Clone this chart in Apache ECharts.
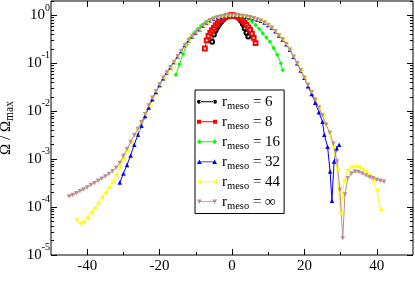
<!DOCTYPE html>
<html><head><meta charset="utf-8">
<script src="https://cdn.jsdelivr.net/npm/echarts@6/dist/echarts.min.js"></script>
<style>html,body{margin:0;padding:0;background:#fff}#c{width:415px;height:282px}</style>
</head><body><div id="c"></div>
<script>
// ---- data ----
const sBlack = [-5.5,-5,-4.5,-4,-3.5,-3,-2.5,-2,-1.5,-1,-0.5,0,0.5,1,1.5,2,2.5,3,3.5,4,4.5];
const vBlack = [0.282,0.398,0.490,0.575,0.661,0.741,0.813,0.891,0.933,0.977,1.0,1.0,1.0,0.977,0.933,0.871,0.776,0.661,0.537,0.437,0.363];

const sRed = [-7.5,-7,-6.5,-6,-5.5,-5,-4.5,-4,-3.5,-3,-2.5,-2,-1.5,-1,-0.5,0,0.5,1,1.5,2,2.5,3,3.5,4,4.5,5,5.5,6,6.5];
const vRed = [0.204,0.302,0.372,0.437,0.490,0.550,0.617,0.692,0.759,0.813,0.871,0.912,0.955,0.977,1.0,1.0,1.0,0.977,0.955,0.912,0.851,0.776,0.708,0.631,0.562,0.501,0.417,0.339,0.263];

const sGreen = [-15.5,-14.5,-13.5,-12.5,-11.5,-10.5,-9.5,-8.5,-7.5,-6.5,-5.5,-4.5,-3.5,-2.5,-1.5,-0.5,0.5,1.5,2.5,3.5,4.5,5.5,6.5,7.5,8.5,9.5,10.5,11.5,12.5,13.5,14];
const vGreen = [0.0575,0.0955,0.158,0.245,0.339,0.427,0.513,0.603,0.692,0.776,0.851,0.902,0.944,0.977,0.993,1.0,1.0,0.989,0.966,0.923,0.851,0.741,0.631,0.525,0.427,0.347,0.282,0.209,0.151,0.100,0.0724];

const sBlue = [-31,-30,-29,-28,-27,-26,-25,-24,-23,-22,-21,-20,-19,-18,-17,-16,-15,-14,-13,-12,-11,-10,-9,-8,-7,-6,-5,-4,-3,-2,-1,0,1,2,3,4,5,6,7,8,9,10,11,12,13,14,15,16,17,18,19,20,21,22,23,24,25,25.5,26.4,27.1,27.6,28.2,28.9,29.6];
const vBlue = [3.24e-4,5.01e-4,7.59e-4,1.20e-3,2.00e-3,3.24e-3,5.01e-3,7.94e-3,1.20e-2,1.78e-2,2.51e-2,3.55e-2,4.90e-2,6.46e-2,8.32e-2,0.107,0.141,0.182,0.240,0.302,0.363,0.437,0.513,0.617,0.708,0.794,0.851,0.912,0.955,0.977,1.0,1.0,1.0,0.989,0.977,0.944,0.912,0.871,0.822,0.776,0.708,0.631,0.550,0.468,0.380,0.316,0.251,0.191,0.138,0.100,0.0708,0.0501,3.31e-2,2.29e-2,1.51e-2,9.55e-3,6.03e-3,3.24e-3,1.82e-3,5.50e-4,1.35e-4,8.91e-4,1.70e-3,2.00e-3];

const sYellow = [-43,-42,-41,-40,-39,-38,-37,-36,-35,-34,-33,-32,-31,-30,-29,-28,-27,-26,-25,-24,-23,-22,-21,-20,-19,-18,-17,-16,-15,-14,-13,-12,-11,-10,-9,-8,-7,-6,-5,-4,-3,-2,-1,0,1,2,3,4,5,6,7,8,9,10,11,12,13,14,15,16,17,18,19,20,21,22,23,24,25,26,27,28,29,30,31,32,33,34,35,36,37,38,39,40,41];
const vYellow = [5.50e-5,4.57e-5,5.01e-5,6.03e-5,7.59e-5,9.55e-5,1.20e-4,1.58e-4,2.00e-4,2.57e-4,3.39e-4,4.68e-4,6.76e-4,1.00e-3,1.51e-3,2.24e-3,3.16e-3,4.27e-3,5.89e-3,8.71e-3,1.32e-2,1.91e-2,2.63e-2,3.63e-2,5.01e-2,6.46e-2,8.32e-2,0.107,0.141,0.182,0.240,0.302,0.363,0.437,0.513,0.617,0.708,0.794,0.851,0.912,0.955,0.977,1.0,1.0,1.0,0.989,0.977,0.944,0.912,0.871,0.822,0.776,0.708,0.631,0.550,0.468,0.380,0.316,0.251,0.191,0.138,0.100,0.0708,0.0501,0.0355,0.0251,0.0174,0.0120,0.00813,0.00525,3.39e-3,1.78e-3,6.31e-4,7.41e-5,3.55e-4,6.03e-4,6.92e-4,7.24e-4,6.92e-4,6.31e-4,5.50e-4,4.68e-4,3.72e-4,2.24e-4,8.71e-5];

const sBrown = [-45,-44,-43,-42,-41,-40,-39,-38,-37,-36,-35,-34,-33,-32,-31,-30,-29,-28,-27,-26,-25,-24,-23,-22,-21,-20,-19,-18,-17,-16,-15,-14,-13,-12,-11,-10,-9,-8,-7,-6,-5,-4,-3,-2,-1,0,1,2,3,4,5,6,7,8,9,10,11,12,13,14,15,16,17,18,19,20,21,22,23,24,25,26,27,28,29,29.8,30.6,31.2,32,33,34,35,36,37,38,39,40,41,42];
const vBrown = [1.66e-4,1.78e-4,1.95e-4,2.14e-4,2.34e-4,2.57e-4,2.88e-4,3.16e-4,3.55e-4,3.89e-4,4.37e-4,4.90e-4,5.62e-4,6.61e-4,8.32e-4,1.17e-3,1.62e-3,2.29e-3,3.16e-3,4.27e-3,5.89e-3,8.71e-3,1.32e-2,1.91e-2,2.63e-2,3.63e-2,5.01e-2,6.46e-2,8.32e-2,0.107,0.141,0.182,0.240,0.302,0.363,0.437,0.513,0.617,0.708,0.794,0.851,0.912,0.955,0.977,1.0,1.0,1.0,0.989,0.977,0.944,0.912,0.871,0.822,0.776,0.708,0.631,0.550,0.468,0.380,0.316,0.251,0.191,0.138,0.100,0.0708,0.0501,0.0355,0.0251,0.0174,0.0120,0.00813,0.00525,0.00355,0.00209,0.000891,0.000229,0.0000224,0.000182,0.000398,0.000501,0.000550,0.000537,0.000501,0.000457,0.000417,0.000398,0.000372,0.000355,0.000339];

const legendValues = ['6','8','16','32','44','\u221E'];
const xMajorTicks = [-40,-20,0,20,40];
const xMinorTicks = [-30,-10,10,30];
const yMajorTicks = [1e-5,1e-4,1e-3,1e-2,1e-1,1];
const yMinorTicks = [];
for (let d = -5; d <= -1; d++) for (let k = 2; k <= 9; k++) yMinorTicks.push(+(k + 'e' + d));
yMinorTicks.push(2);

// ---- chart ----
const FONT = 'Liberation Serif';
const pair = (s, v) => s.map((x, i) => [x, v[i]]);
const colors = ['#000000','#ff0000','#00ff00','#0000ff','#ffff00','#bc8f8f'];
const symbols = ['emptyCircle','emptyRect','diamond','triangle','triangle','triangle'];
const sizes = [4,3.8,4.5,4.5,4.5,4.5];
const rotates = [0,0,0,0,90,180];
const icons = [
  'path://M0,3a2,2 0 1,0 4,0a2,2 0 1,0 -4,0Z M16,3a2,2 0 1,0 4,0a2,2 0 1,0 -4,0Z M3,2.6H17V3.4H3Z',
  'path://M0,1H4V5H0Z M16,1H20V5H16Z M3,2.6H17V3.4H3Z',
  'path://M2,0.5L4.5,3L2,5.5L-0.5,3Z M18,0.5L20.5,3L18,5.5L15.5,3Z M3,2.6H17V3.4H3Z',
  'path://M2,0.5L4.5,5L-0.5,5Z M18,0.5L20.5,5L15.5,5Z M3,2.6H17V3.4H3Z',
  'path://M0,3L4,0.5L4,5.5Z M16,3L20,0.5L20,5.5Z M3,2.6H17V3.4H3Z',
  'path://M-0.5,1L4.5,1L2,5.5Z M15.5,1L20.5,1L18,5.5Z M3,2.6H17V3.4H3Z'
];
const datas = [pair(sBlack,vBlack),pair(sRed,vRed),pair(sGreen,vGreen),pair(sBlue,vBlue),pair(sYellow,vYellow),pair(sBrown,vBrown)];
const names = legendValues.map(v => 'rmeso = ' + v);

const tickLine = {color:'#000', width:1};
function xAx(pos, major) {
  return {type:'value', min:-50, max:50, position:pos,
    axisLine:{show:false, onZero:false}, splitLine:{show:false},
    axisTick:{inside:true, length: major?6:3, customValues: major?xMajorTicks:xMinorTicks, lineStyle:tickLine},
    axisLabel:{show:false}};
}
function yAx(pos, major) {
  return {type:'log', logBase:10, min:1e-5, max:2, position:pos,
    axisLine:{show:false, onZero:false}, splitLine:{show:false}, minorTick:{show:false},
    axisTick:{inside:true, length: major?6:3, customValues: major?yMajorTicks:yMinorTicks, lineStyle:tickLine},
    axisLabel:{show:false}};
}
const xa = [xAx('bottom',true), xAx('bottom',false), xAx('top',true), xAx('top',false)];
xa[0].axisLabel = {show:true, customValues:xMajorTicks, fontFamily:FONT, fontSize:15, color:'#000', margin:4};
xa[0].name = 's'; xa[0].nameLocation = 'middle'; xa[0].nameGap = 14;
xa[0].nameTextStyle = {fontFamily:FONT, fontSize:15, color:'#000'};
const ya = [yAx('left',true), yAx('left',false), yAx('right',true), yAx('right',false)];
ya[0].axisLabel = {show:true, customValues:yMajorTicks, margin:1, color:'#000',
  formatter: v => '{b|10}{sup|' + Math.round(Math.log10(v)) + '}',
  rich:{b:{fontFamily:FONT, fontSize:15, color:'#000', lineHeight:25},
        sup:{fontFamily:FONT, fontSize:10, color:'#000', verticalAlign:'top', lineHeight:10}}};
ya[0].name = '\u03A9 / \u03A9{s|max}'; ya[0].nameLocation = 'middle'; ya[0].nameGap = 33;
ya[0].nameTextStyle = {fontFamily:FONT, fontSize:15, color:'#000', lineHeight:20,
  rich:{s:{fontFamily:FONT, fontSize:11.5, color:'#000', verticalAlign:'bottom', lineHeight:11}}};

const chart = echarts.init(document.getElementById('c'), null, {renderer:'canvas'});
chart.setOption({
  animation:false,
  backgroundColor:'#fff',
  grid:{left:51, right:2, top:1, bottom:27, show:true, borderColor:'#000', borderWidth:1,
    backgroundColor:'transparent', outerBoundsMode:'none', containLabel:false},
  xAxis: xa,
  yAxis: ya,
  legend:{orient:'vertical', left:195, top:90, backgroundColor:'#fff', borderColor:'#000', borderWidth:1,
    padding:[2,4,2,2], itemGap:0.5, itemWidth:20, itemHeight:6,
    data: names.map((n,i)=>({name:n, icon:icons[i], itemStyle:{color:colors[i], borderWidth:0}})),
    formatter: n => 'r{sub|meso} = ' + n.split('= ')[1],
    textStyle:{fontFamily:FONT, fontSize:15, color:'#000', lineHeight:19.5,
      rich:{sub:{fontFamily:FONT, fontSize:10.5, color:'#000', verticalAlign:'bottom', lineHeight:19.5}}}},
  series: datas.map((d,i)=>({
    name:names[i], type:'line', data:d, xAxisIndex:0, yAxisIndex:0,
    symbol:symbols[i], symbolSize:sizes[i], symbolRotate:rotates[i], showSymbol:true, showAllSymbol:true,
    lineStyle:{width:1, color:colors[i]},
    itemStyle:{color:colors[i], borderColor:colors[i], borderWidth: i<2 ? 0.7 : 0},
    emphasis:{disabled:true}, clip:true
  }))
});
</script></body></html>
